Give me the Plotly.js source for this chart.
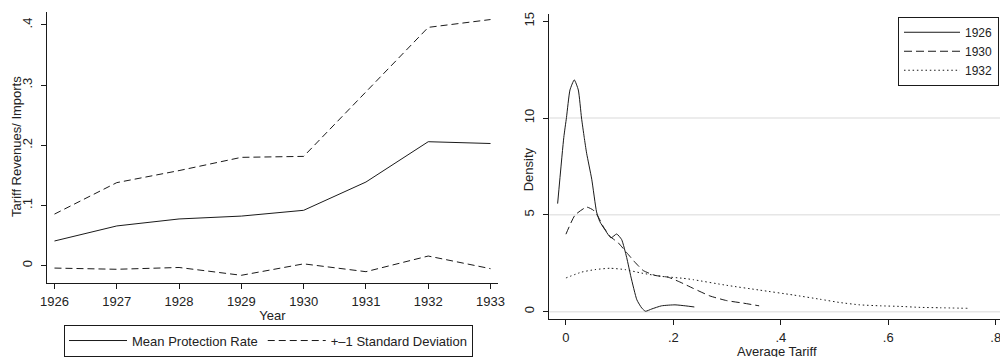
<!DOCTYPE html>
<html>
<head>
<meta charset="utf-8">
<script src="https://cdn.plot.ly/plotly-3.0.1.min.js"></script>
<style>html,body{margin:0;padding:0;background:#fff;}#chart{width:1000px;height:357px;}</style>
</head>
<body>
<div id="chart"></div>
<script>
// ---- Left panel data ----
var years = [1926, 1927, 1928, 1929, 1930, 1931, 1932, 1933];
var meanRate = [0.041, 0.066, 0.0776, 0.0824, 0.092, 0.139, 0.206, 0.203];
var upperSD = [0.0857, 0.138, 0.158, 0.180, 0.1816, 0.289, 0.396, 0.409];
var lowerSD = [-0.004, -0.006, -0.003, -0.016, 0.003, -0.010, 0.016, -0.005];
var leftYTickVals = [0, 0.1, 0.2, 0.3, 0.4];
var leftYTickText = ['0', '.1', '.2', '.3', '.4'];

// ---- Right panel data (kernel densities of average tariff) ----
var x1926 = [-0.0155, -0.004, 0.001, 0.0075, 0.0155, 0.023, 0.029, 0.034, 0.0385, 0.048, 0.057, 0.063, 0.0726, 0.0838, 0.0944, 0.1037, 0.113, 0.121, 0.132, 0.141, 0.148, 0.160, 0.178, 0.203, 0.222, 0.239];
var d1926 = [5.58, 9.0, 10.03, 11.45, 11.97, 11.45, 10.0, 9.0, 8.18, 6.84, 5.15, 4.65, 4.23, 3.81, 4.01, 3.72, 2.8, 1.79, 0.61, 0.19, 0.02, 0.14, 0.30, 0.35, 0.30, 0.24];
var x1930 = [0, 0.0168, 0.0385, 0.051, 0.060, 0.0695, 0.082, 0.0975, 0.113, 0.1285, 0.144, 0.166, 0.19, 0.212, 0.237, 0.268, 0.299, 0.33, 0.3596];
var d1930 = [4.0, 4.98, 5.40, 5.24, 4.9, 4.39, 3.89, 3.55, 3.05, 2.55, 2.12, 1.87, 1.78, 1.53, 1.2, 0.81, 0.57, 0.44, 0.30];
var x1932 = [0, 0.029, 0.054, 0.082, 0.11, 0.141, 0.178, 0.2185, 0.237, 0.299, 0.361, 0.423, 0.473, 0.510, 0.547, 0.585, 0.622, 0.659, 0.696, 0.749];
var d1932 = [1.74, 2.04, 2.17, 2.24, 2.17, 1.99, 1.82, 1.72, 1.65, 1.36, 1.11, 0.86, 0.64, 0.47, 0.35, 0.30, 0.27, 0.22, 0.20, 0.17];
var rightXTickVals = [0, 0.2, 0.4, 0.6, 0.8];
var rightXTickText = ['0', '.2', '.4', '.6', '.8'];
var rightYTickVals = [0, 5, 10, 15];
var gridValues = [0, 5, 10];

var ink = '#1a1a1a';
var txt = '#222';
var FONT = 'Liberation Sans, Arial, Helvetica, sans-serif';
var FS = 13;

var traces = [
  {x: years, y: meanRate, type: 'scatter', mode: 'lines', name: 'Mean Protection Rate',
   line: {color: ink, width: 1}, xaxis: 'x', yaxis: 'y', legend: 'legend'},
  {x: years, y: upperSD, type: 'scatter', mode: 'lines', name: '+\u20131 Standard Deviation',
   line: {color: ink, width: 1, dash: '7px,4px'}, xaxis: 'x', yaxis: 'y', legend: 'legend', legendgroup: 'sd'},
  {x: years, y: lowerSD, type: 'scatter', mode: 'lines', name: '+\u20131 Standard Deviation', showlegend: false,
   line: {color: ink, width: 1, dash: '7px,4px'}, xaxis: 'x', yaxis: 'y', legend: 'legend', legendgroup: 'sd'},
  {x: x1926, y: d1926, type: 'scatter', mode: 'lines', name: '1926',
   line: {color: ink, width: 1, shape: 'spline', smoothing: 0.5}, xaxis: 'x2', yaxis: 'y2', legend: 'legend2'},
  {x: x1930, y: d1930, type: 'scatter', mode: 'lines', name: '1930',
   line: {color: ink, width: 1, dash: '8px,4px', shape: 'spline', smoothing: 0.5}, xaxis: 'x2', yaxis: 'y2', legend: 'legend2'},
  {x: x1932, y: d1932, type: 'scatter', mode: 'lines', name: '1932',
   line: {color: ink, width: 1, dash: '1.5px,2.8px', shape: 'spline', smoothing: 0.5}, xaxis: 'x2', yaxis: 'y2', legend: 'legend2'}
];

var shapes = gridValues.map(function (v) {
  return {type: 'line', xref: 'x2 domain', yref: 'y2', x0: 0, x1: 1, y0: v, y1: v,
          line: {color: '#e6e6e6', width: 1.5}, layer: 'below'};
});

var axisCommon = {
  showline: true, linecolor: ink, linewidth: 1, ticks: 'outside', ticklen: 5, tickwidth: 1,
  tickcolor: ink, showgrid: false, zeroline: false, ticklabelstandoff: 4,
  ticklabeloverflow: 'allow', tickfont: {family: FONT, size: FS, color: txt}
};

var layout = {
  width: 1000, height: 357,
  margin: {l: 0, r: 0, t: 0, b: 0},
  paper_bgcolor: '#fff', plot_bgcolor: '#fff',
  font: {family: FONT, size: FS, color: txt},
  showlegend: true,
  xaxis: Object.assign({}, axisCommon, {
    domain: [0.047, 0.498], range: [1925.88, 1933.12], anchor: 'y', ticklabelstandoff: 2,
    tickvals: years, ticktext: years.map(String),
    title: {text: 'Year', font: {family: FONT, size: FS, color: txt}, standoff: 2}
  }),
  yaxis: Object.assign({}, axisCommon, {
    domain: [0.1905, 0.9664], range: [-0.028, 0.422], anchor: 'x',
    tickvals: leftYTickVals, ticktext: leftYTickText, tickangle: -90
  }),
  xaxis2: Object.assign({}, axisCommon, {
    domain: [0.5493, 1.0], range: [-0.031, 0.808], anchor: 'y2', ticklabelstandoff: 1,
    tickvals: rightXTickVals, ticktext: rightXTickText
  }),
  yaxis2: Object.assign({}, axisCommon, {
    domain: [0.0849, 0.9608], range: [-0.40, 15.39], anchor: 'x2',
    tickvals: rightYTickVals, ticktext: rightYTickVals.map(String), tickangle: -90
  }),
  annotations: [
    {text: 'Tariff Revenues/ Imports', xref: 'paper', yref: 'paper', x: 0.017, y: 0.579,
     xanchor: 'center', yanchor: 'middle', textangle: -90, showarrow: false,
     font: {family: FONT, size: FS, color: txt}},
    {text: 'Density', xref: 'paper', yref: 'paper', x: 0.528, y: 0.515,
     xanchor: 'center', yanchor: 'middle', textangle: -90, showarrow: false,
     font: {family: FONT, size: FS, color: txt}},
    {text: 'Average Tariff', xref: 'paper', yref: 'paper', x: 0.777, y: 0.021,
     xanchor: 'center', yanchor: 'top', showarrow: false,
     font: {family: FONT, size: FS, color: txt}}
  ],
  legend: {
    orientation: 'h', x: 0.064, y: 0.07, xanchor: 'left', yanchor: 'top',
    bordercolor: ink, borderwidth: 1, bgcolor: '#fff', itemwidth: 58,
    font: {family: FONT, size: FS, color: txt}, tracegroupgap: 0
  },
  legend2: {
    orientation: 'v', x: 0.999, y: 0.952, xanchor: 'right', yanchor: 'top',
    bordercolor: ink, borderwidth: 1, bgcolor: '#fff', itemwidth: 56,
    font: {family: FONT, size: 12, color: txt}, tracegroupgap: 0
  },
  shapes: shapes
};

Plotly.newPlot('chart', traces, layout, {displayModeBar: false, staticPlot: true});
</script>
</body>
</html>
